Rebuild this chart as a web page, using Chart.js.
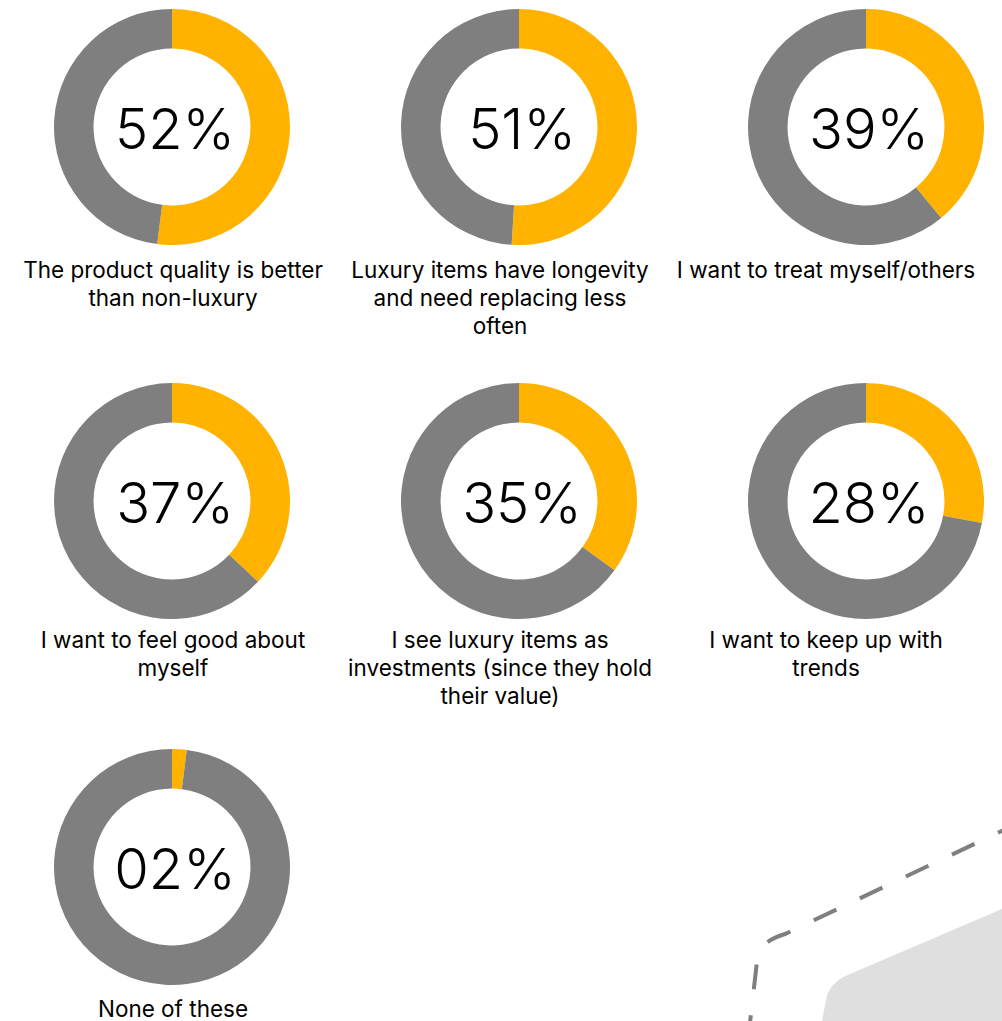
<!DOCTYPE html>
<html>
<head>
<meta charset="utf-8">
<script src="https://cdn.jsdelivr.net/npm/chart.js@4.4.1/dist/chart.umd.min.js"></script>
<style>
  html, body { margin: 0; padding: 0; background: #ffffff; }
  body { width: 1002px; height: 1021px; position: relative; overflow: hidden; }
  #backdrop { position: absolute; left: 0; top: 0; }
  .ring { position: absolute; display: block; }
  .caption {
    position: absolute; width: 340px; text-align: center;
    font-family: Inter, "Liberation Sans", Arial, sans-serif;
    font-size: 22.5px; line-height: 28px; color: #000;
  }
</style>
</head>
<body>
<svg id="backdrop" width="1002" height="1021">
  <path d="M 822 1021 L 826 1000 Q 829 982 850 974 L 1002 909 L 1002 1021 Z" fill="#dfdfdf"/>
  <path d="M 748 1040 L 757.5 957 Q 761 941 785 934 L 1010 827" fill="none"
        stroke="#7f7f7f" stroke-width="4" stroke-dasharray="25 26"/>
</svg>
<script>
// Survey answers: why people buy luxury items
const reasons = [
  ['The product quality is better', 'than non-luxury'],
  ['Luxury items have longevity', 'and need replacing less', 'often'],
  ['I want to treat myself/others'],
  ['I want to feel good about', 'myself'],
  ['I see luxury items as', 'investments (since they hold', 'their value)'],
  ['I want to keep up with', 'trends'],
  ['None of these']
];
const sharePercent = [52, 51, 39, 37, 35, 28, 2];
const shareText = ['52%', '51%', '39%', '37%', '35%', '28%', '02%'];

const ORANGE = '#FFB200';
const GREY = '#7f7f7f';

// grid layout
const colCentres = [172, 519, 866];
const captionCentres = [173, 500, 826];
const rowCentres = [126.7, 500.8, 867.2];
const captionTops = [256, 626, 995];
const RING = 236;

const centreText = {
  id: 'centreText',
  afterDraw(chart, args, opts) {
    const { ctx, chartArea } = chart;
    const x = (chartArea.left + chartArea.right) / 2;
    const y = (chartArea.top + chartArea.bottom) / 2;
    ctx.save();
    ctx.font = '300 56px Inter, "Liberation Sans", Arial, sans-serif';
    ctx.fillStyle = '#000';
    ctx.textAlign = 'center';
    ctx.textBaseline = 'alphabetic';
    ctx.fillText(opts.text, x + 3, y + 22);
    ctx.restore();
  }
};

reasons.forEach((lines, i) => {
  const col = i % 3, row = Math.floor(i / 3);
  const cx = colCentres[col], cy = rowCentres[row];

  const canvas = document.createElement('canvas');
  canvas.className = 'ring';
  canvas.width = RING; canvas.height = RING;
  canvas.style.left = (cx - RING / 2) + 'px';
  canvas.style.top = (cy - RING / 2) + 'px';
  document.body.appendChild(canvas);

  new Chart(canvas, {
    type: 'doughnut',
    data: {
      labels: [lines.join(' '), 'Other'],
      datasets: [{
        data: [sharePercent[i], 100 - sharePercent[i]],
        backgroundColor: [ORANGE, GREY],
        borderWidth: 0
      }]
    },
    options: {
      responsive: false,
      animation: false,
      cutout: '66.5%',
      layout: { padding: 0 },
      plugins: {
        legend: { display: false },
        tooltip: { enabled: false },
        centreText: { text: shareText[i] }
      }
    },
    plugins: [centreText]
  });

  const cap = document.createElement('div');
  cap.className = 'caption';
  cap.style.left = (captionCentres[col] - 170) + 'px';
  cap.style.top = captionTops[row] + 'px';
  lines.forEach((t, k) => {
    if (k) cap.appendChild(document.createElement('br'));
    cap.appendChild(document.createTextNode(t));
  });
  document.body.appendChild(cap);
});
</script>
</body>
</html>
